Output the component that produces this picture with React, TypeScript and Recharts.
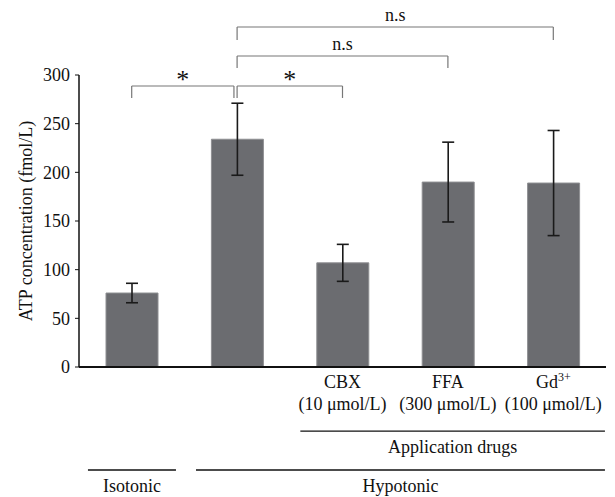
import { Bar, BarChart, ErrorBar, ReferenceLine, XAxis, YAxis } from "recharts";

document.body.style.margin = "0";

const FONT = "'Liberation Serif', 'Times New Roman', serif";

// one bar per condition
const groups = ["Isotonic", "Hypotonic", "CBX", "FFA", "Gd"];
const drugNames = ["", "", "CBX", "FFA", "Gd"];
const doses = ["", "", "(10 μmol/L)", "(300 μmol/L)", "(100 μmol/L)"];
const atp = [76, 234, 107, 190, 189];
const atpErr = [10, 37, 19, 41, 54];
const yTicks = [0, 50, 100, 150, 200, 250, 300];

// significance brackets, x in bar positions (1..5), y in fmol/L
const bracketFrom = [1, 2, 2, 2];
const bracketTo = [1.97, 3, 4, 5];
const bracketY = [288.7, 288.7, 319.5, 349.3];
const bracketDrop = [276.4, 276.4, 307.2, 336];
const bracketText = ["*", "*", "n.s", "n.s"];

// group underlines below the axis
const groupFrom = [2.6, 0.585, 1.61];
const groupTo = [5.49, 1.42, 5.49];
const groupY = [-65.8, -105.8, -105.8];
const groupText = ["Application drugs", "Isotonic", "Hypotonic"];

const data = groups.map((g, i) => ({ name: g, pos: i + 1, atp: atp[i], err: atpErr[i] }));

function DrugTick({ x, y, payload }: any) {
  const i = groups.indexOf(payload.value);
  if (!drugNames[i]) return null;
  return (
    <g style={{ fontFamily: FONT }} fontSize={18} fill="#111">
      <text x={x} y={y + 19} textAnchor="middle">
        {drugNames[i]}
        {drugNames[i] === "Gd" && (
          <tspan fontSize={12} dy={-7}>3+</tspan>
        )}
      </text>
      <text x={x} y={y + 41} textAnchor="middle">{doses[i]}</text>
    </g>
  );
}

export default function App() {
  return (
    <div style={{ fontFamily: FONT }}>
      <BarChart
        width={615}
        height={497}
        data={data}
        margin={{ top: 75, right: 9, left: 0, bottom: 100 }}
        style={{ fontFamily: FONT }}
      >
        <XAxis
          xAxisId="cat"
          dataKey="name"
          height={30}
          tick={<DrugTick />}
          tickLine={false}
          tickSize={0}
          axisLine={{ stroke: "#111", strokeWidth: 2 }}
          interval={0}
        />
        <XAxis xAxisId="pos" dataKey="pos" type="number" domain={[0.5, 5.5]} allowDataOverflow hide />
        <YAxis
          width={79}
          domain={[0, 300]}
          ticks={yTicks}
          tickSize={4}
          tickMargin={5}
          tick={{ fill: "#111", fontSize: 18, style: { fontFamily: FONT } }}
          tickLine={{ stroke: "#111" }}
          axisLine={{ stroke: "#111", strokeWidth: 1.5 }}
          label={{
            value: "ATP concentration (fmol/L)",
            angle: -90,
            position: "insideLeft",
            offset: 21,
            dx: 5,
            style: { textAnchor: "middle", fontSize: 18, fontFamily: FONT, fill: "#111" },
          }}
        />
        <Bar
          xAxisId="cat"
          dataKey="atp"
          barSize={52}
          fill="#6b6c70"
          stroke="#8e8f92"
          strokeWidth={1}
          isAnimationActive={false}
        >
          <ErrorBar dataKey="err" width={6} stroke="#1a1a1a" strokeWidth={1.6} isAnimationActive={false} />
        </Bar>

        {bracketText.map((t, i) => (
          <ReferenceLine
            key={`bh${i}`}
            xAxisId="pos"
            ifOverflow="visible"
            stroke="#777"
            strokeWidth={1.2}
            segment={[{ x: bracketFrom[i], y: bracketY[i] }, { x: bracketTo[i], y: bracketY[i] }]}
            label={{
              value: t,
              position: "top",
              offset: t === "*" ? -2 : 6,
              fontSize: t === "*" ? 26 : 18,
              fill: "#111",
              style: { fontFamily: FONT },
            }}
          />
        ))}
        {bracketText.map((_, i) => (
          <ReferenceLine
            key={`bl${i}`}
            xAxisId="pos"
            ifOverflow="visible"
            stroke="#777"
            strokeWidth={1.2}
            segment={[{ x: bracketFrom[i], y: bracketY[i] }, { x: bracketFrom[i], y: bracketDrop[i] }]}
          />
        ))}
        {bracketText.map((_, i) => (
          <ReferenceLine
            key={`br${i}`}
            xAxisId="pos"
            ifOverflow="visible"
            stroke="#777"
            strokeWidth={1.2}
            segment={[{ x: bracketTo[i], y: bracketY[i] }, { x: bracketTo[i], y: bracketDrop[i] }]}
          />
        ))}

        {groupText.map((t, i) => (
          <ReferenceLine
            key={`g${i}`}
            xAxisId="pos"
            ifOverflow="visible"
            stroke="#111"
            strokeWidth={1.3}
            segment={[{ x: groupFrom[i], y: groupY[i] }, { x: groupTo[i], y: groupY[i] }]}
            label={{ value: t, position: "bottom", offset: 9, fontSize: 18, fill: "#111", style: { fontFamily: FONT } }}
          />
        ))}
      </BarChart>
    </div>
  );
}
